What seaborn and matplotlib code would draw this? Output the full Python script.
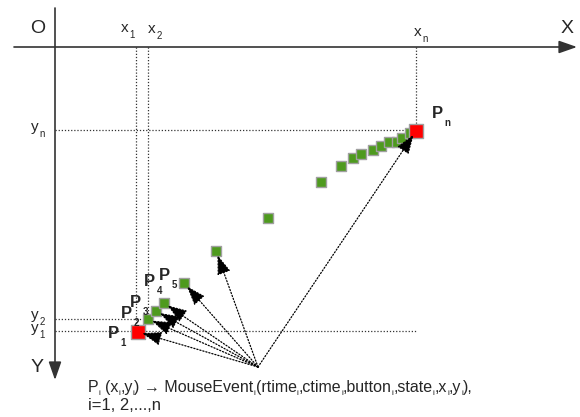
"""
Mouse-event trajectory diagram: points P1..Pn sampled along a drag,
each one mapped to a MouseEvent record.
"""

import matplotlib

matplotlib.use("Agg")
import matplotlib.pyplot as plt
import seaborn as sns

# point positions, measured from the origin O (x to the right, y downwards)
POINT_X = [83, 93, 101, 109, 129, 161, 213, 266, 286, 298, 306, 318, 326, 334, 342, 347, 355, 361]
POINT_Y = [285, 272, 264, 256, 236, 204, 171, 135, 119, 111, 107, 103, 99, 95, 95, 91, 86, 84]

# points that get an arrow from the event source
ARROW_INDEX = [0, 1, 2, 3, 4, 5, 17]
SOURCE_X = 203
SOURCE_Y = 320

# point labels: subscript, label left x, label baseline y
LABEL_SUB = ["1", "2", "3", "4", "5", "n"]
LABEL_X = [53, 66, 75, 89, 104, 377]
LABEL_Y = [291, 271, 260, 239, 233, 71]

# axis marks: main text, subscript, left x, baseline y
TICK_MAIN = ["x", "x", "x", "y", "y", "y"]
TICK_SUB = ["1", "2", "n", "n", "2", "1"]
TICK_X = [66, 93, 359, -24, -24, -24]
TICK_Y = [-15, -14, -11, 84, 272, 285]

CAPTION_PARTS = ["P", "i", " (x", "i", ",y", "i", ") \u2192 MouseEvent", "i",
                 "(rtime", "i", ",ctime", "i", ",button", "i", ",state", "i",
                 ",x", "i", ",y", "i", "),"]
CAPTION_LINE2 = "i=1, 2,...,n"

GREEN = "#4e9a1e"
RED = "#ff0000"
EDGE = "#a0a0a0"
AXIS_COLOR = "#333333"
DOT = (0, (1, 1.5))

FIGURE_WIDTH = 5.8
FIGURE_HEIGHT = 4.17


def rich_text(ax, renderer, x, y, parts, size, sub_size, sub_drop,
              weight="normal", pad=0.5):
    """Write main/subscript chunks one after another (1 data unit = 1 pixel)."""
    for k, chunk in enumerate(parts):
        is_sub = k % 2 == 1
        fs = sub_size if is_sub else size
        if chunk.startswith(" "):
            x += 0.28 * fs * 100 / 72
            chunk = chunk.lstrip()
        t = ax.text(x, y + (sub_drop if is_sub else 0), chunk, fontsize=fs,
                    fontweight=weight, ha="left", va="baseline")
        x += t.get_window_extent(renderer).width + pad


def draw_diagram() -> None:
    sns.set_style("white")
    plt.rcParams["font.family"] = ["Liberation Sans", "DejaVu Sans"]

    fig = plt.figure(figsize=(FIGURE_WIDTH, FIGURE_HEIGHT), dpi=100)
    ax = fig.add_axes([0, 0, 1, 1])
    ax.set_xlim(-55, 525)
    ax.set_ylim(370, -47)
    ax.axis("off")
    renderer = fig.canvas.get_renderer()

    # coordinate axes
    axis_arrow = dict(arrowstyle="-|>,head_length=1.0,head_width=0.35",
                      color=AXIS_COLOR, lw=1.2, mutation_scale=11,
                      shrinkA=0, shrinkB=0)
    ax.annotate("", xy=(522, 0), xytext=(-41, 0), arrowprops=axis_arrow)
    ax.annotate("", xy=(0, 333), xytext=(0, -39), arrowprops=axis_arrow)

    ax.text(-17, -19, "O", fontsize=14, ha="center", va="center")
    ax.text(512, -19, "X", fontsize=14, ha="center", va="center")
    ax.text(-18, 321, "Y", fontsize=14, ha="center", va="center")

    # guide lines for x1, x2, xn and y1, y2, yn
    first, second, last = 0, 1, len(POINT_X) - 1
    ref = dict(color=AXIS_COLOR, lw=0.9, ls=DOT)
    ax.plot([POINT_X[first] - 2] * 2, [0, POINT_Y[first]], **ref)
    ax.plot([POINT_X[second]] * 2, [0, POINT_Y[second]], **ref)
    ax.plot([POINT_X[last]] * 2, [0, POINT_Y[last]], **ref)
    ax.plot([0, POINT_X[last]], [POINT_Y[first] - 1] * 2, **ref)
    ax.plot([0, POINT_X[second]], [POINT_Y[second]] * 2, **ref)
    ax.plot([0, POINT_X[last]], [POINT_Y[last] - 1] * 2, **ref)

    for main, sub, tx, ty in zip(TICK_MAIN, TICK_SUB, TICK_X, TICK_Y):
        rich_text(ax, renderer, tx, ty, [main, sub], 11, 7, 6, pad=1)

    # arrows from the event source to the sampled points
    for i in ARROW_INDEX:
        ax.annotate("", xy=(POINT_X[i], POINT_Y[i]), xytext=(SOURCE_X, SOURCE_Y),
                    arrowprops=dict(arrowstyle="-|>,head_length=1.0,head_width=0.35",
                                    color="black", lw=0.9, ls=DOT,
                                    mutation_scale=12, shrinkA=0, shrinkB=3),
                    zorder=3)

    # trajectory points: first and last in red
    inner_x = POINT_X[1:-1]
    inner_y = POINT_Y[1:-1]
    sns.scatterplot(x=inner_x, y=inner_y, marker="s", s=62, color=GREEN,
                    edgecolor=EDGE, linewidth=1.0, ax=ax, zorder=2)
    sns.scatterplot(x=[POINT_X[0], POINT_X[-1]], y=[POINT_Y[0], POINT_Y[-1]],
                    marker="s", s=92, color=RED, edgecolor=EDGE, linewidth=1.0,
                    ax=ax, zorder=2)

    for sub, lx, ly in zip(LABEL_SUB, LABEL_X, LABEL_Y):
        rich_text(ax, renderer, lx, ly, ["P", sub], 12, 7, 8, weight="bold", pad=1.5)

    rich_text(ax, renderer, 33, 345, CAPTION_PARTS, 11.5, 6, 3, pad=0)
    ax.text(33, 363, CAPTION_LINE2, fontsize=12, ha="left", va="baseline")

    fig.savefig("out.png", dpi=100)


if __name__ == "__main__":
    draw_diagram()
